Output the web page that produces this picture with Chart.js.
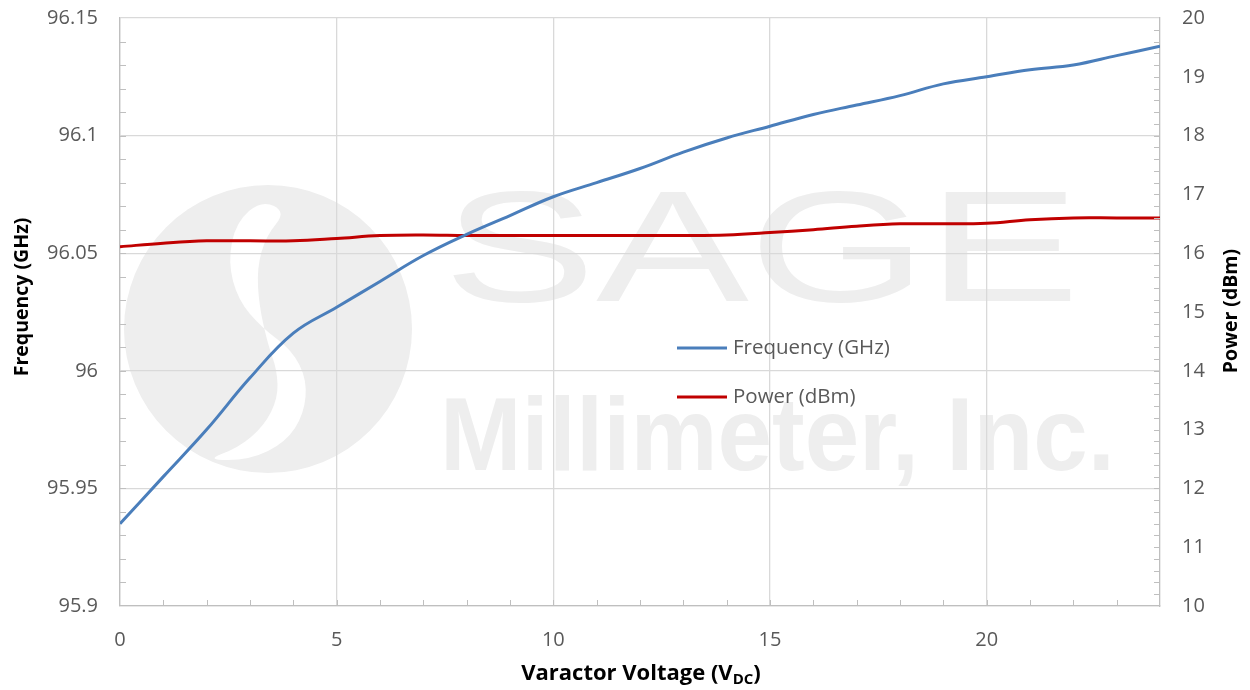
<!DOCTYPE html>
<html>
<head>
<meta charset="utf-8">
<script src="https://cdn.jsdelivr.net/npm/chart.js@4"></script>
<style>
  html, body { margin: 0; background: #fff; }
  #wrap { width: 1250px; height: 690px; position: relative; }
</style>
</head>
<body>
<div id="wrap"><canvas id="c"></canvas></div>
<script>
const VOLTS = [0, 1, 2, 3, 4, 5, 6, 7, 8, 9, 10, 11, 12, 13, 14, 15, 16, 17, 18, 19, 20, 21, 22, 23, 24];
const FREQ_GHZ = [95.935, 95.955, 95.975, 95.997, 96.016, 96.027, 96.038, 96.049, 96.058, 96.066,
  96.074, 96.080, 96.086, 96.093, 96.099, 96.104, 96.109, 96.113, 96.117, 96.122,
  96.125, 96.128, 96.130, 96.134, 96.138];
const POWER_DBM = [16.11, 16.17, 16.21, 16.21, 16.21, 16.25, 16.30, 16.31, 16.30, 16.30,
  16.30, 16.30, 16.30, 16.30, 16.31, 16.35, 16.40, 16.46, 16.50, 16.50,
  16.51, 16.57, 16.60, 16.60, 16.60];

const X_TICKS = [0, 5, 10, 15, 20];
const FREQ_TICKS = [95.9, 95.95, 96, 96.05, 96.1, 96.15];
const POWER_TICKS = [10, 11, 12, 13, 14, 15, 16, 17, 18, 19, 20];

const BLUE = '#4a7ebb', RED = '#c00000';
const GRID = '#d9d9d9', AXIS = '#bfbfbf', TXT = '#595959', WM = '#eeeeee';
const FONT = '"Open Sans", sans-serif';

const pts = ys => VOLTS.map((v, i) => ({ x: v, y: ys[i] }));
const fixTicks = list => s => { s.ticks = list.map(v => ({ value: v })); };

// smooth closed outline through a list of points (midpoint quadratic)
function blob(ctx, p) {
  const n = p.length, mid = (a, b) => [(a[0] + b[0]) / 2, (a[1] + b[1]) / 2];
  let m = mid(p[n - 1], p[0]);
  ctx.beginPath(); ctx.moveTo(m[0], m[1]);
  for (let i = 0; i < n; i++) {
    m = mid(p[i], p[(i + 1) % n]);
    ctx.quadraticCurveTo(p[i][0], p[i][1], m[0], m[1]);
  }
  ctx.closePath();
}

// faint company watermark behind the grid
const watermark = {
  id: 'watermark',
  beforeDraw(chart) {
    const ctx = chart.ctx;
    ctx.save();
    ctx.fillStyle = WM;
    ctx.beginPath(); ctx.arc(268, 329, 144, 0, Math.PI * 2); ctx.fill();
    // white S swoosh through the disc
    ctx.fillStyle = '#fff';
    blob(ctx, [[262, 200], [236, 222], [228, 262], [238, 300], [262, 328], [292, 350], [307, 380],
      [304, 414], [286, 442], [250, 460], [205, 460], [238, 448], [264, 426], [278, 398],
      [277, 370], [268, 345], [259, 305], [257, 268], [266, 236], [286, 212]]);
    ctx.fill();
    // wordmark
    ctx.fillStyle = WM;
    ctx.textBaseline = 'alphabetic';
    ctx.font = '158px "Liberation Sans", sans-serif';
    const w = ctx.measureText('SAGE').width;
    ctx.save();
    ctx.translate(443, 301);
    ctx.scale(637 / w, 1);
    ctx.fillText('SAGE', 0, 0);
    ctx.restore();
    ctx.font = 'bold 104px "Liberation Sans", sans-serif';
    ctx.fillText('Millimeter, Inc.', 440, 470, 675);
    ctx.restore();
  }
};

// Excel style inside minor ticks + legend + axis titles
const decorations = {
  id: 'decorations',
  afterDraw(chart) {
    const ctx = chart.ctx, a = chart.chartArea;
    const x = chart.scales.x, y = chart.scales.y, y1 = chart.scales.y1;
    ctx.save();
    ctx.strokeStyle = AXIS; ctx.lineWidth = 1;
    ctx.beginPath();
    for (let v = x.min + 1; v < x.max; v++) {
      const px = Math.round(x.getPixelForValue(v)) + 0.5;
      ctx.moveTo(px, a.bottom); ctx.lineTo(px, a.bottom - 6);
    }
    for (let i = 1; i < 25; i++) {
      const py = Math.round(y.getPixelForValue(y.min + i * 0.01)) + 0.5;
      ctx.moveTo(a.left, py); ctx.lineTo(a.left + 6, py);
    }
    for (let i = 1; i < 50; i++) {
      const py = Math.round(y1.getPixelForValue(y1.min + i * 0.2)) + 0.5;
      ctx.moveTo(a.right, py); ctx.lineTo(a.right - 6, py);
    }
    ctx.stroke();

    // legend inside the plot
    ctx.font = '20.5px ' + FONT;
    ctx.textBaseline = 'middle';
    ctx.textAlign = 'left';
    chart.data.datasets.forEach((ds, i) => {
      const ly = 348 + i * 49;
      ctx.strokeStyle = ds.borderColor; ctx.lineWidth = 3;
      ctx.beginPath(); ctx.moveTo(677, ly); ctx.lineTo(727, ly); ctx.stroke();
      ctx.fillStyle = TXT;
      ctx.fillText(ds.label, 733, ly);
    });

    // axis titles
    ctx.fillStyle = '#000';
    ctx.font = 'bold 19.5px ' + FONT;
    ctx.textAlign = 'center';
    ctx.save(); ctx.translate(22, 297); ctx.rotate(-Math.PI / 2);
    ctx.fillText('Frequency (GHz)', 0, 0); ctx.restore();
    ctx.save(); ctx.translate(1231, 311); ctx.rotate(-Math.PI / 2);
    ctx.fillText('Power (dBm)', 0, 0); ctx.restore();

    // x title with subscript
    const big = 'bold 22px ' + FONT, small = 'bold 15px ' + FONT;
    ctx.textAlign = 'left';
    ctx.font = big; const w1 = ctx.measureText('Varactor Voltage (V').width, w3 = ctx.measureText(')').width;
    ctx.font = small; const w2 = ctx.measureText('DC').width;
    let tx = 641 - (w1 + w2 + w3) / 2;
    const ty = 674;
    ctx.font = big; ctx.fillText('Varactor Voltage (V', tx, ty); tx += w1;
    ctx.font = small; ctx.fillText('DC', tx, ty + 6); tx += w2;
    ctx.font = big; ctx.fillText(')', tx, ty);
    ctx.restore();
  }
};

const noPadY = w => s => { s.width = w; s.paddingTop = 0; s.paddingBottom = 0; };

new Chart(document.getElementById('c'), {
  type: 'line',
  data: {
    datasets: [
      { label: 'Frequency (GHz)', data: pts(FREQ_GHZ), yAxisID: 'y', borderColor: BLUE, borderWidth: 3,
        pointRadius: 0, tension: 0.4 },
      { label: 'Power (dBm)', data: pts(POWER_DBM), yAxisID: 'y1', borderColor: RED, borderWidth: 3,
        pointRadius: 0, tension: 0.4 },
    ]
  },
  options: {
    responsive: true, maintainAspectRatio: false, animation: false,
    layout: { padding: { top: 18, left: 0, right: 0, bottom: 0 } },
    plugins: { legend: { display: false }, tooltip: { enabled: false } },
    scales: {
      x: {
        type: 'linear', min: 0, max: 24,
        afterBuildTicks: fixTicks(X_TICKS),
        afterFit: s => { s.height = 84; s.paddingLeft = 0; s.paddingRight = 0; },
        ticks: { color: TXT, font: { family: FONT, size: 20 }, padding: 22, maxRotation: 0 },
        grid: { color: GRID, lineWidth: 1.3, drawTicks: false },
        border: { color: AXIS, width: 1.3 },
      },
      y: {
        position: 'left', min: 95.9, max: 96.15,
        afterBuildTicks: fixTicks(FREQ_TICKS),
        afterFit: noPadY(120),
        ticks: { color: TXT, font: { family: FONT, size: 20 }, padding: 22, callback: v => String(+v.toFixed(2)) },
        grid: { color: GRID, lineWidth: 1.3, drawTicks: false },
        border: { color: AXIS, width: 1.3 },
      },
      y1: {
        position: 'right', min: 10, max: 20,
        afterBuildTicks: fixTicks(POWER_TICKS),
        afterFit: noPadY(90),
        ticks: { color: TXT, font: { family: FONT, size: 20 }, padding: 22 },
        grid: { drawOnChartArea: false, drawTicks: false },
        border: { color: AXIS, width: 1.3 },
      }
    }
  },
  plugins: [watermark, decorations]
});
</script>
</body>
</html>
